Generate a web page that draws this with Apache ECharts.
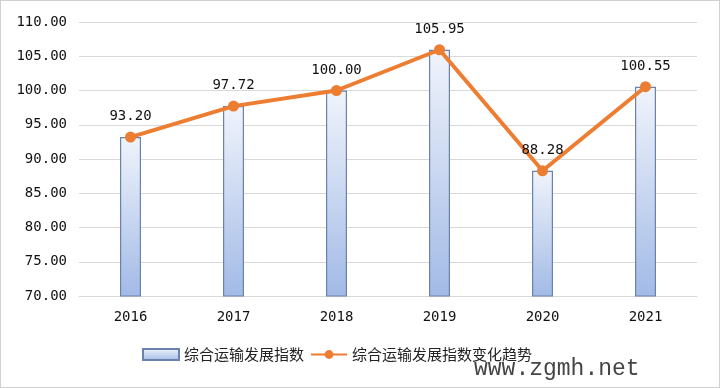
<!DOCTYPE html>
<html><head><meta charset="utf-8">
<script src="https://cdn.jsdelivr.net/npm/echarts@6/dist/echarts.min.js"></script>
<style>html,body{margin:0;padding:0;background:#fff}#c{width:718px;height:386px;border:1px solid #d0d0d0}</style>
</head><body><div id="c"></div>
<script>
const categories = ['2016','2017','2018','2019','2020','2021'];
const indexValues = [93.20, 97.72, 100.00, 105.95, 88.28, 100.55];
const trendValues = [93.20, 97.72, 100.00, 105.95, 88.28, 100.55];
const yTicks = {min: 70, max: 110, interval: 5};
const barName = '综合运输发展指数';
const lineName = '综合运输发展指数变化趋势';

const chart = echarts.init(document.getElementById('c'));
const font = '"DejaVu Sans Mono", "Liberation Mono", monospace';
chart.setOption({
  animation: false,
  grid: {left: 78, right: 22, top: 21, bottom: 91},
  legend: {
    bottom: 20, left: 136, itemGap: 6, itemWidth: 36, itemHeight: 11,
    textStyle: {fontSize: 15, color: '#222', fontFamily: '"Noto Sans CJK SC", sans-serif'},
    data: [{name: barName, icon: 'rect'}, {name: lineName}]
  },
  xAxis: {
    type: 'category', data: categories,
    axisLine: {show: true, lineStyle: {color: '#d9d9d9'}},
    axisTick: {show: false},
    axisLabel: {color: '#111', fontSize: 14, fontFamily: font, margin: 14}
  },
  yAxis: {
    type: 'value', min: yTicks.min, max: yTicks.max, interval: yTicks.interval,
    axisLine: {show: false}, axisTick: {show: false},
    splitLine: {lineStyle: {color: '#d9d9d9'}},
    axisLabel: {color: '#111', fontSize: 14, fontFamily: font, margin: 12,
      formatter: v => v.toFixed(2)}
  },
  series: [
    {
      name: barName, type: 'bar', data: indexValues, barWidth: 21,
      itemStyle: {
        borderColor: '#6a82ad', borderWidth: 1.2,
        color: new echarts.graphic.LinearGradient(0, 0, 0, 1, [
          {offset: 0, color: '#f0f4fb'}, {offset: 1, color: '#a2bae6'}
        ])
      }
    },
    {
      name: lineName, type: 'line', data: trendValues,
      symbol: 'circle', symbolSize: 11,
      lineStyle: {color: '#ed7d31', width: 4},
      itemStyle: {color: '#ed7d31'},
      label: {show: true, position: 'top', distance: 8, color: '#111', fontSize: 14, fontFamily: font,
        formatter: p => p.value.toFixed(2)}
    }
  ],
  graphic: [{
    type: 'text', left: 473, top: 356,
    style: {text: 'www.zgmh.net', fontSize: 23, fontFamily: '"Liberation Mono", monospace', fill: '#444'}
  }]
});
</script></body></html>
